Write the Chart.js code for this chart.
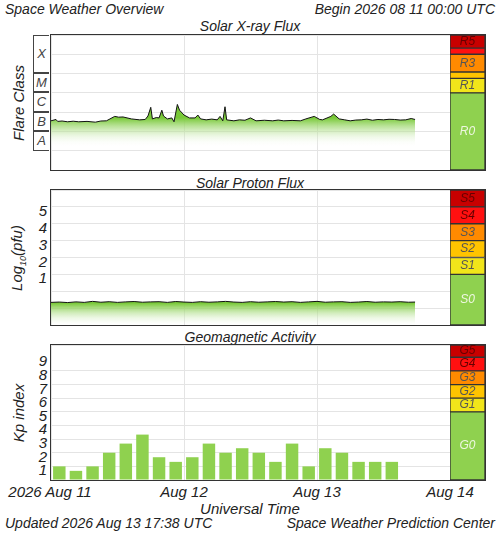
<!DOCTYPE html>
<html>
<head>
<meta charset="utf-8">
<script src="https://cdn.jsdelivr.net/npm/chart.js@4.4.1/dist/chart.umd.min.js"></script>
<style>
  body { margin: 0; background: #fff; }
  #wrap { position: relative; width: 500px; height: 533px; font-family: "Liberation Sans", Arial, sans-serif; font-style: italic; color: #222; }
  .t { position: absolute; font-size: 14px; white-space: nowrap; line-height: 1; }
  .c { transform: translateX(-50%); }
  .r { transform: translateX(-100%); }
  .rot { position: absolute; font-size: 15px; white-space: nowrap; transform: translate(-50%, -50%) rotate(-90deg); }
  .panel { position: absolute; left: 50px; width: 434px; height: 135px; border: 1px solid #333; }
  .panel canvas { position: absolute; top: 0; }
  .fc { position: absolute; left: 33px; width: 16px; border: 1px solid #444; border-right: none; text-align: center; font-size: 13px; color: #444; box-sizing: border-box; }
  .num { position: absolute; font-size: 15px; transform: translate(-100%, -50%); }
</style>
</head>
<body>
<div id="wrap">
  <div class="t" style="left:5px;top:2px">Space Weather Overview</div>
  <div class="t r" style="left:495px;top:2px">Begin 2026 08 11 00:00 UTC</div>
  <div class="t c" style="left:250px;top:19px">Solar X-ray Flux</div>
  <div class="t c" style="left:250px;top:176px">Solar Proton Flux</div>
  <div class="t c" style="left:250px;top:330px">Geomagnetic Activity</div>
  <div class="rot" style="left:18px;top:103px">Flare Class</div>
  <div class="rot" style="left:18px;top:258px">Log<sub style="font-size:9px">10</sub>(pfu)</div>
  <div class="rot" style="left:18px;top:413px">Kp index</div>
  <div class="t c" style="left:50px;top:484px;font-size:15px">2026 Aug 11</div>
  <div class="t c" style="left:184px;top:484px;font-size:15px">Aug 12</div>
  <div class="t c" style="left:317px;top:484px;font-size:15px">Aug 13</div>
  <div class="t c" style="left:450px;top:484px;font-size:15px">Aug 14</div>
  <div class="t c" style="left:250px;top:501px;font-size:15px">Universal Time</div>
  <div class="t" style="left:5px;top:516px">Updated 2026 Aug 13 17:38 UTC</div>
  <div class="t r" style="left:495px;top:516px">Space Weather Prediction Center</div>

  <div class="fc" style="top:35px;height:38px;line-height:36px">X</div>
  <div class="fc" style="top:73px;height:19px;line-height:18px">M</div>
  <div class="fc" style="top:92px;height:20px;line-height:18px">C</div>
  <div class="fc" style="top:112px;height:19px;line-height:18px">B</div>
  <div class="fc" style="top:131px;height:20px;line-height:18px;border-bottom:1px solid #444">A</div>

  <div class="panel" style="top:34px"><canvas id="xray" style="left:0;width:399px;height:135px"></canvas><canvas id="xrayScale" style="left:399px;width:35px;height:135px"></canvas></div>
  <div class="panel" style="top:189px"><canvas id="proton" style="left:0;width:399px;height:135px"></canvas><canvas id="protonScale" style="left:399px;width:35px;height:135px"></canvas></div>
  <div class="panel" style="top:344px"><canvas id="kp" style="left:0;width:399px;height:135px"></canvas><canvas id="kpScale" style="left:399px;width:35px;height:135px"></canvas></div>
</div>
<script>
// hours since 2026-08-11 00:00 UTC, log10 flux (W/m^2)
const xrayHours = [0, 0.9, 1.2, 2, 3, 4, 5, 6.5, 8, 9, 10, 11.5, 12.2, 13, 14.5, 16, 17, 17.5, 18, 18.3, 19, 19.5, 20, 20.3, 21, 21.8, 22.2, 22.8, 23.2, 24, 25, 26, 26.5, 27, 28, 29, 30, 30.5, 31, 31.4, 31.7, 33, 34, 35, 36, 37, 38.5, 40, 41, 42, 43.5, 45, 46, 47.5, 48.5, 49, 50.5, 51, 52, 53, 54, 55, 56, 57, 58, 59, 60, 61, 62, 63, 64, 65, 65.7]
const xrayFlux = [-6.45, -6.38, -6.48, -6.46, -6.5, -6.47, -6.5, -6.48, -6.52, -6.46, -6.45, -6.22, -6.26, -6.25, -6.35, -6.4, -6.38, -6.2, -5.75, -6.35, -6.28, -6.3, -5.9, -6.2, -6.35, -6.3, -6.5, -5.6, -5.9, -6.15, -6.3, -6.3, -6.15, -6.35, -6.4, -6.36, -6.4, -6.22, -6.45, -5.72, -6.4, -6.45, -6.4, -6.42, -6.3, -6.45, -6.42, -6.45, -6.41, -6.45, -6.43, -6.45, -6.35, -6.22, -6.38, -6.4, -6.22, -6.1, -6.35, -6.4, -6.45, -6.41, -6.4, -6.36, -6.42, -6.38, -6.4, -6.37, -6.38, -6.41, -6.4, -6.33, -6.38]
// log10 proton flux (pfu), sampled every 1.5 h
const protonHours = [0, 1.5, 3, 4.5, 6, 7.5, 9, 10.5, 12, 13.5, 15, 16.5, 18, 19.5, 21, 22.5, 24, 25.5, 27, 28.5, 30, 31.5, 33, 34.5, 36, 37.5, 39, 40.5, 42, 43.5, 45, 46.5, 48, 49.5, 51, 52.5, 54, 55.5, 57, 58.5, 60, 61.5, 63, 64.5, 65.7]
const protonFlux = [-0.66, -0.64, -0.67, -0.63, -0.66, -0.6, -0.65, -0.62, -0.66, -0.63, -0.61, -0.65, -0.63, -0.62, -0.66, -0.61, -0.64, -0.66, -0.62, -0.65, -0.63, -0.6, -0.64, -0.66, -0.62, -0.65, -0.63, -0.61, -0.64, -0.62, -0.66, -0.63, -0.6, -0.65, -0.63, -0.62, -0.66, -0.64, -0.61, -0.65, -0.63, -0.64, -0.62, -0.65, -0.64]
// planetary Kp, 3-hour bins (bin centre in hours)
const kpHours = [1.5, 4.5, 7.5, 10.5, 13.5, 16.5, 19.5, 22.5, 25.5, 28.5, 31.5, 34.5, 37.5, 40.5, 43.5, 46.5, 49.5, 52.5, 55.5, 58.5, 61.5]
const kpValues = [1.0, 0.67, 1.0, 2.0, 2.67, 3.33, 1.67, 1.33, 1.67, 2.67, 2.0, 2.33, 2.0, 1.33, 2.67, 1.0, 2.33, 2.0, 1.33, 1.33, 1.33]

const xrayLevels = ['R0', 'R1', '', 'R3', '', 'R5']
const xrayBands = [4, 0.75, 0.33, 0.92, 0.32, 0.68]
const protonLevels = ['S0', 'S1', 'S2', 'S3', 'S4', 'S5']
const protonBands = [3, 1, 1, 1, 1, 1]
const kpLevels = ['G0', 'G1', 'G2', 'G3', 'G4', 'G5']
const kpBands = [5, 1, 1, 1, 1, 0.9]
const bandColors = ['#8fd14f', '#f1e51a', '#ffc400', '#ff8a00', '#ff1010', '#c80000']
const bandText = ['#eef7e0', '#555', '#555', '#555', '#600', '#600']

const grid = { color: '#e4e4e4', drawTicks: false }
function plotScales(ymin, ymax) {
  return {
    x: { type: 'linear', min: 0, max: 72, offset: false, ticks: { display: false, stepSize: 24 }, grid: { ...grid, offset: false }, border: { display: false } },
    y: { min: ymin, max: ymax, ticks: { display: false, stepSize: 1 }, grid, border: { display: false } },
  }
}
function fade(top, bottom) {
  return (ctx) => {
    const { chart } = ctx
    if (!chart.chartArea) return 'rgba(140,210,80,0.6)'
    const y = chart.scales.y
    const g = chart.ctx.createLinearGradient(0, y.getPixelForValue(top), 0, y.getPixelForValue(bottom))
    g.addColorStop(0, 'rgba(120,200,55,1)')
    g.addColorStop(1, 'rgba(255,255,255,0)')
    return g
  }
}
function lineChart(id, xs, ys, ymin, ymax, top, bottom) {
  new Chart(document.getElementById(id), {
    type: 'line',
    data: { datasets: [{ data: xs.map((h, i) => ({ x: h, y: ys[i] })), borderColor: '#111', borderWidth: 1, pointRadius: 0, tension: 0, fill: 'start', backgroundColor: fade(top, bottom) }] },
    options: { responsive: false, animation: false, layout: { padding: 0 }, plugins: { legend: { display: false }, tooltip: { enabled: false } }, scales: plotScales(ymin, ymax) },
  })
}
const bandLabels = {
  id: 'bandLabels',
  afterDatasetsDraw(chart) {
    const { ctx } = chart
    ctx.save()
    ctx.font = 'italic 12px "Liberation Sans", Arial, sans-serif'
    ctx.textAlign = 'center'
    ctx.textBaseline = 'middle'
    chart.data.datasets.forEach((ds, i) => {
      const bar = chart.getDatasetMeta(i).data[0]
      if (!bar || !ds.label) return
      ctx.fillStyle = bandText[i]
      ctx.fillText(ds.label, 17.5, (bar.y + bar.base) / 2)
    })
    ctx.restore()
  },
}
function scaleChart(id, levels, bands, ymin) {
  let lo = ymin
  const datasets = levels.map((l, i) => {
    const range = [lo, lo + bands[i]]
    lo += bands[i]
    return { label: l, data: [range], backgroundColor: bandColors[i], borderColor: '#333', borderWidth: 1, borderSkipped: false, barPercentage: 1, categoryPercentage: 1, grouped: false }
  })
  new Chart(document.getElementById(id), {
    type: 'bar',
    data: { labels: [''], datasets },
    options: {
      responsive: false, animation: false, layout: { padding: 0 },
      plugins: { legend: { display: false }, tooltip: { enabled: false } },
      scales: { x: { display: false }, y: { display: false, min: ymin, max: lo } },
    },
    plugins: [bandLabels],
  })
}

lineChart('xray', xrayHours, xrayFlux, -9, -2, -6.3, -7.8)
scaleChart('xrayScale', xrayLevels, xrayBands, -9)
lineChart('proton', protonHours, protonFlux, -2, 6, -0.7, -2.1)
scaleChart('protonScale', protonLevels, protonBands, -2)

new Chart(document.getElementById('kp'), {
  type: 'bar',
  data: { datasets: [{ data: kpHours.map((h, i) => ({ x: h, y: kpValues[i] })), backgroundColor: '#8fd14f', barPercentage: 0.75, categoryPercentage: 1 }] },
  options: { responsive: false, animation: false, layout: { padding: 0 }, plugins: { legend: { display: false }, tooltip: { enabled: false } }, scales: plotScales(0, 9.9) },
})
scaleChart('kpScale', kpLevels, kpBands, 0)

// Kp and proton tick numbers, placed from the same scales
const protonTicks = [1, 2, 3, 4, 5]
const kpTicks = [1, 2, 3, 4, 5, 6, 7, 8, 9]
const wrap = document.getElementById('wrap')
function addNums(ticks, top, ymin, ymax) {
  ticks.forEach((v) => {
    const d = document.createElement('div')
    d.className = 'num'
    d.style.left = '47px'
    d.style.top = (top + 135 * (ymax - v) / (ymax - ymin) + 3) + 'px'
    d.textContent = v
    wrap.appendChild(d)
  })
}
addNums(protonTicks, 190, -2, 6)
addNums(kpTicks, 345, 0, 9.9)
</script>
</body>
</html>
